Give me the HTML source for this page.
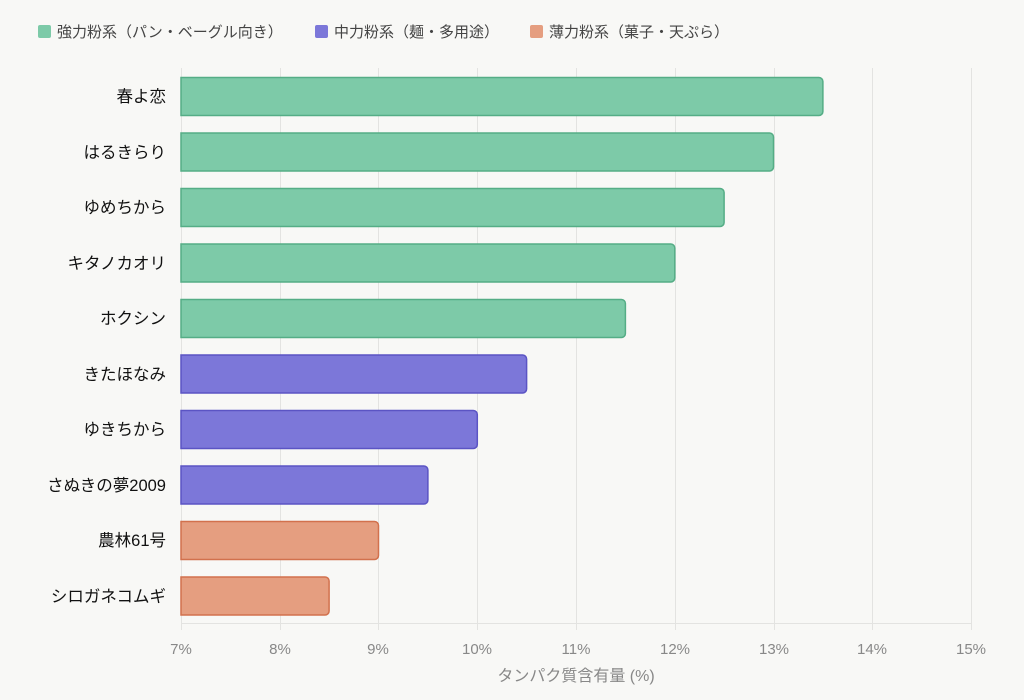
<!DOCTYPE html>
<html><head><meta charset="utf-8"><style>
body{margin:0;background:#f8f8f6;}
svg{display:block;font-family:"Liberation Sans","Noto Sans CJK JP",sans-serif;}
</style></head><body>
<svg width="1024" height="700" viewBox="0 0 1024 700">
<rect width="1024" height="700" fill="#f8f8f6"/>
<g font-size="15" fill="#444">
<rect x="38" y="25" width="13" height="13" rx="2" fill="#7dcaa8"/>
<text x="57" y="37">強力粉系（パン・ベーグル向き）</text>
<rect x="315" y="25" width="13" height="13" rx="2" fill="#7c77d9"/>
<text x="334" y="37">中力粉系（麺・多用途）</text>
<rect x="530" y="25" width="13" height="13" rx="2" fill="#e59e80"/>
<text x="549" y="37">薄力粉系（菓子・天ぷら）</text>
</g>
<g stroke="#e3e3e1" stroke-width="1">
<line x1="181.5" y1="68" x2="181.5" y2="630"/>
<line x1="280.5" y1="68" x2="280.5" y2="630"/>
<line x1="378.5" y1="68" x2="378.5" y2="630"/>
<line x1="477.5" y1="68" x2="477.5" y2="630"/>
<line x1="576.5" y1="68" x2="576.5" y2="630"/>
<line x1="675.5" y1="68" x2="675.5" y2="630"/>
<line x1="774.5" y1="68" x2="774.5" y2="630"/>
<line x1="872.5" y1="68" x2="872.5" y2="630"/>
<line x1="971.5" y1="68" x2="971.5" y2="630"/>
<line x1="181" y1="623.5" x2="971" y2="623.5"/>
</g>
<g stroke-width="1.5">
<path d="M181 77.5H818.9a4 4 0 0 1 4 4V111.5a4 4 0 0 1-4 4H181Z" fill="#7dcaa8" stroke="#55ad86"/>
<path d="M181 133H769.5a4 4 0 0 1 4 4V167a4 4 0 0 1-4 4H181Z" fill="#7dcaa8" stroke="#55ad86"/>
<path d="M181 188.5H720.1a4 4 0 0 1 4 4V222.5a4 4 0 0 1-4 4H181Z" fill="#7dcaa8" stroke="#55ad86"/>
<path d="M181 244H670.8a4 4 0 0 1 4 4V278a4 4 0 0 1-4 4H181Z" fill="#7dcaa8" stroke="#55ad86"/>
<path d="M181 299.5H621.4a4 4 0 0 1 4 4V333.5a4 4 0 0 1-4 4H181Z" fill="#7dcaa8" stroke="#55ad86"/>
<path d="M181 355H522.6a4 4 0 0 1 4 4V389a4 4 0 0 1-4 4H181Z" fill="#7c77d9" stroke="#5b54c4"/>
<path d="M181 410.5H473.3a4 4 0 0 1 4 4V444.5a4 4 0 0 1-4 4H181Z" fill="#7c77d9" stroke="#5b54c4"/>
<path d="M181 466H423.9a4 4 0 0 1 4 4V500a4 4 0 0 1-4 4H181Z" fill="#7c77d9" stroke="#5b54c4"/>
<path d="M181 521.5H374.5a4 4 0 0 1 4 4V555.5a4 4 0 0 1-4 4H181Z" fill="#e59e80" stroke="#d2714d"/>
<path d="M181 577H325.1a4 4 0 0 1 4 4V611a4 4 0 0 1-4 4H181Z" fill="#e59e80" stroke="#d2714d"/>
</g>
<g font-size="16.5" fill="#111" text-anchor="end">
<text x="166" y="102">春よ恋</text>
<text x="166" y="158">はるきらり</text>
<text x="166" y="213">ゆめちから</text>
<text x="166" y="269">キタノカオリ</text>
<text x="166" y="324">ホクシン</text>
<text x="166" y="380">きたほなみ</text>
<text x="166" y="435">ゆきちから</text>
<text x="166" y="491">さぬきの夢2009</text>
<text x="166" y="546">農林61号</text>
<text x="166" y="602">シロガネコムギ</text>
</g>
<g font-size="15" fill="#888" text-anchor="middle">
<text x="181" y="654">7%</text>
<text x="280" y="654">8%</text>
<text x="378" y="654">9%</text>
<text x="477" y="654">10%</text>
<text x="576" y="654">11%</text>
<text x="675" y="654">12%</text>
<text x="774" y="654">13%</text>
<text x="872" y="654">14%</text>
<text x="971" y="654">15%</text>
<text x="576" y="681" font-size="16">タンパク質含有量 (%)</text>
</g>
</svg>
</body></html>
